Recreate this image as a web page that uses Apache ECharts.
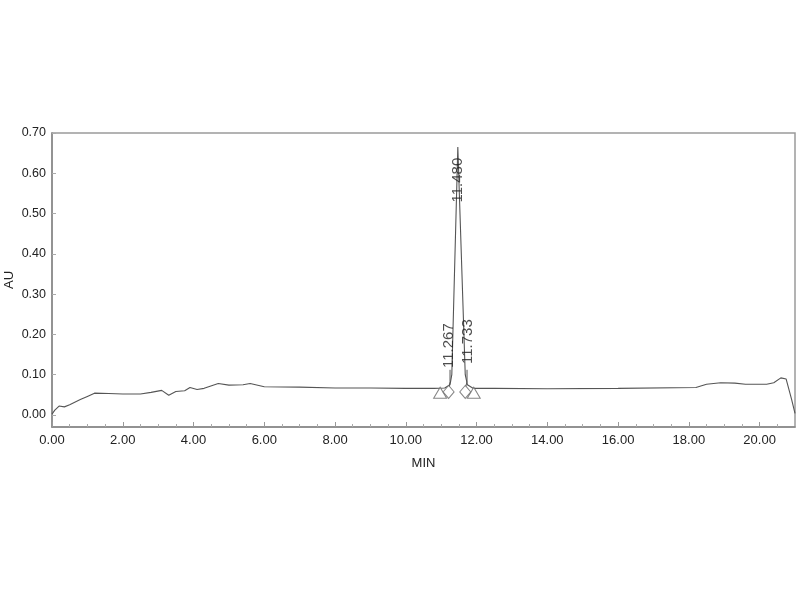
<!DOCTYPE html>
<html>
<head>
<meta charset="utf-8">
<script src="https://cdn.jsdelivr.net/npm/echarts@6/dist/echarts.min.js"></script>
<style>
  html, body { margin: 0; padding: 0; background: #fff; }
  #main { width: 800px; height: 600px; }
</style>
</head>
<body>
<div id="main"></div>
<script>
// chromatogram trace
var time = [0, 0.08, 0.2, 0.35, 0.5, 0.8, 1.0, 1.2, 1.6, 2.0, 2.5, 2.8, 3.1, 3.3, 3.5, 3.75, 3.9, 4.1, 4.3, 4.7, 5.0, 5.4, 5.6, 6.0, 7.0, 8.0, 9.0, 10.0, 10.8, 11.1, 11.25, 11.3, 11.47, 11.49, 11.68, 11.74, 11.9, 12.5, 14.0, 16.0, 18.2, 18.5, 18.9, 19.3, 19.6, 20.2, 20.4, 20.6, 20.75, 20.9, 21.0];
var au   = [0.002, 0.012, 0.022, 0.02, 0.025, 0.038, 0.046, 0.054, 0.053, 0.052, 0.052, 0.056, 0.061, 0.049, 0.058, 0.06, 0.068, 0.063, 0.066, 0.078, 0.074, 0.075, 0.078, 0.07, 0.069, 0.067, 0.067, 0.066, 0.066, 0.067, 0.075, 0.1, 0.665, 0.665, 0.1, 0.075, 0.066, 0.066, 0.065, 0.066, 0.068, 0.076, 0.08, 0.079, 0.076, 0.076, 0.08, 0.092, 0.089, 0.04, 0.004];

// peak labels
var peakNames = ['11.267', '11.480', '11.733'];
var peakLabelX = [11.23, 11.47, 11.75];
var peakLabelY = [0.172, 0.583, 0.182];

// start/end markers (triangles) and split markers (diamonds)
var triX = [10.97, 11.92];
var triY = [0.055, 0.055];
var diaX = [11.21, 11.68];
var diaY = [0.057, 0.057];

// leader lines under the small peak labels
var leadX = [11.25, 11.25, 11.22, null, 11.73, 11.73, 11.69];
var leadY = [0.112, 0.082, 0.069, null, 0.112, 0.082, 0.069];

var xLabels = [0, 2, 4, 6, 8, 10, 12, 14, 16, 18, 20];
var yLabels = [0, 0.1, 0.2, 0.3, 0.4, 0.5, 0.6, 0.7];

function pairs(xs, ys) {
  return xs.map(function (x, i) { return x === null ? '-' : [x, ys[i]]; });
}

var chart = echarts.init(document.getElementById('main'));
var font = 'Liberation Sans, Arial, sans-serif';

var option = {
  backgroundColor: '#fff',
  animation: false,
  grid: {
    left: 52, right: 5, top: 133, bottom: 173,
    outerBoundsMode: 'none', containLabel: false,
    show: true, borderColor: '#9a9a9a', borderWidth: 1.5
  },
  xAxis: {
    type: 'value',
    min: 0, max: 21, interval: 2,
    name: 'MIN', nameLocation: 'middle', nameGap: 30, nameMoveOverlap: false,
    nameTextStyle: { color: '#222', fontSize: 13, fontFamily: font },
    axisLine: { onZero: false, lineStyle: { color: '#888', width: 1.5 } },
    axisTick: { inside: true, length: 5, lineStyle: { color: '#999' }, customValues: xLabels },
    minorTick: { show: true, splitNumber: 4, length: 3, lineStyle: { color: '#aaa' } },
    splitLine: { show: false },
    axisLabel: {
      color: '#222', fontSize: 13, fontFamily: font, margin: 7,
      customValues: xLabels,
      formatter: function (v) { return v.toFixed(2); }
    }
  },
  yAxis: {
    type: 'value',
    min: -0.03, max: 0.70,
    name: 'AU', nameLocation: 'middle', nameGap: 36, nameMoveOverlap: false,
    nameTextStyle: { color: '#222', fontSize: 13, fontFamily: font },
    axisLine: { show: true, onZero: false, lineStyle: { color: '#888', width: 1.5 } },
    axisTick: { show: true, inside: true, length: 4, lineStyle: { color: '#aaa' }, customValues: yLabels },
    splitLine: { show: false },
    axisLabel: {
      color: '#222', fontSize: 12.5, fontFamily: font, margin: 6,
      customValues: yLabels,
      formatter: function (v) { return v.toFixed(2); }
    }
  },
  series: [
    {
      name: 'trace',
      type: 'line',
      data: pairs(time, au),
      showSymbol: false,
      lineStyle: { color: '#555', width: 1.1 },
      z: 3
    },
    {
      name: 'leaders',
      type: 'line',
      data: pairs(leadX, leadY),
      showSymbol: false,
      connectNulls: false,
      lineStyle: { color: '#555', width: 1 },
      z: 3
    },
    {
      name: 'triangles',
      type: 'scatter',
      data: pairs(triX, triY),
      symbol: 'triangle',
      symbolSize: [13, 11],
      itemStyle: { color: '#fff', borderColor: '#666', borderWidth: 1 },
      z: 4
    },
    {
      name: 'diamonds',
      type: 'scatter',
      data: pairs(diaX, diaY),
      symbol: 'diamond',
      symbolSize: [11, 13],
      itemStyle: { color: '#fff', borderColor: '#666', borderWidth: 1 },
      z: 4
    },
    {
      name: 'peaks',
      type: 'scatter',
      data: peakNames.map(function (n, i) { return [peakLabelX[i], peakLabelY[i], n]; }),
      symbolSize: 1,
      itemStyle: { color: 'rgba(0,0,0,0)' },
      label: {
        show: true,
        position: 'inside',
        rotate: 90,
        color: '#222',
        fontSize: 15,
        fontFamily: font,
        formatter: function (p) { return p.value[2]; }
      },
      z: 5
    }
  ]
};
chart.setOption(option);
</script>
</body>
</html>
